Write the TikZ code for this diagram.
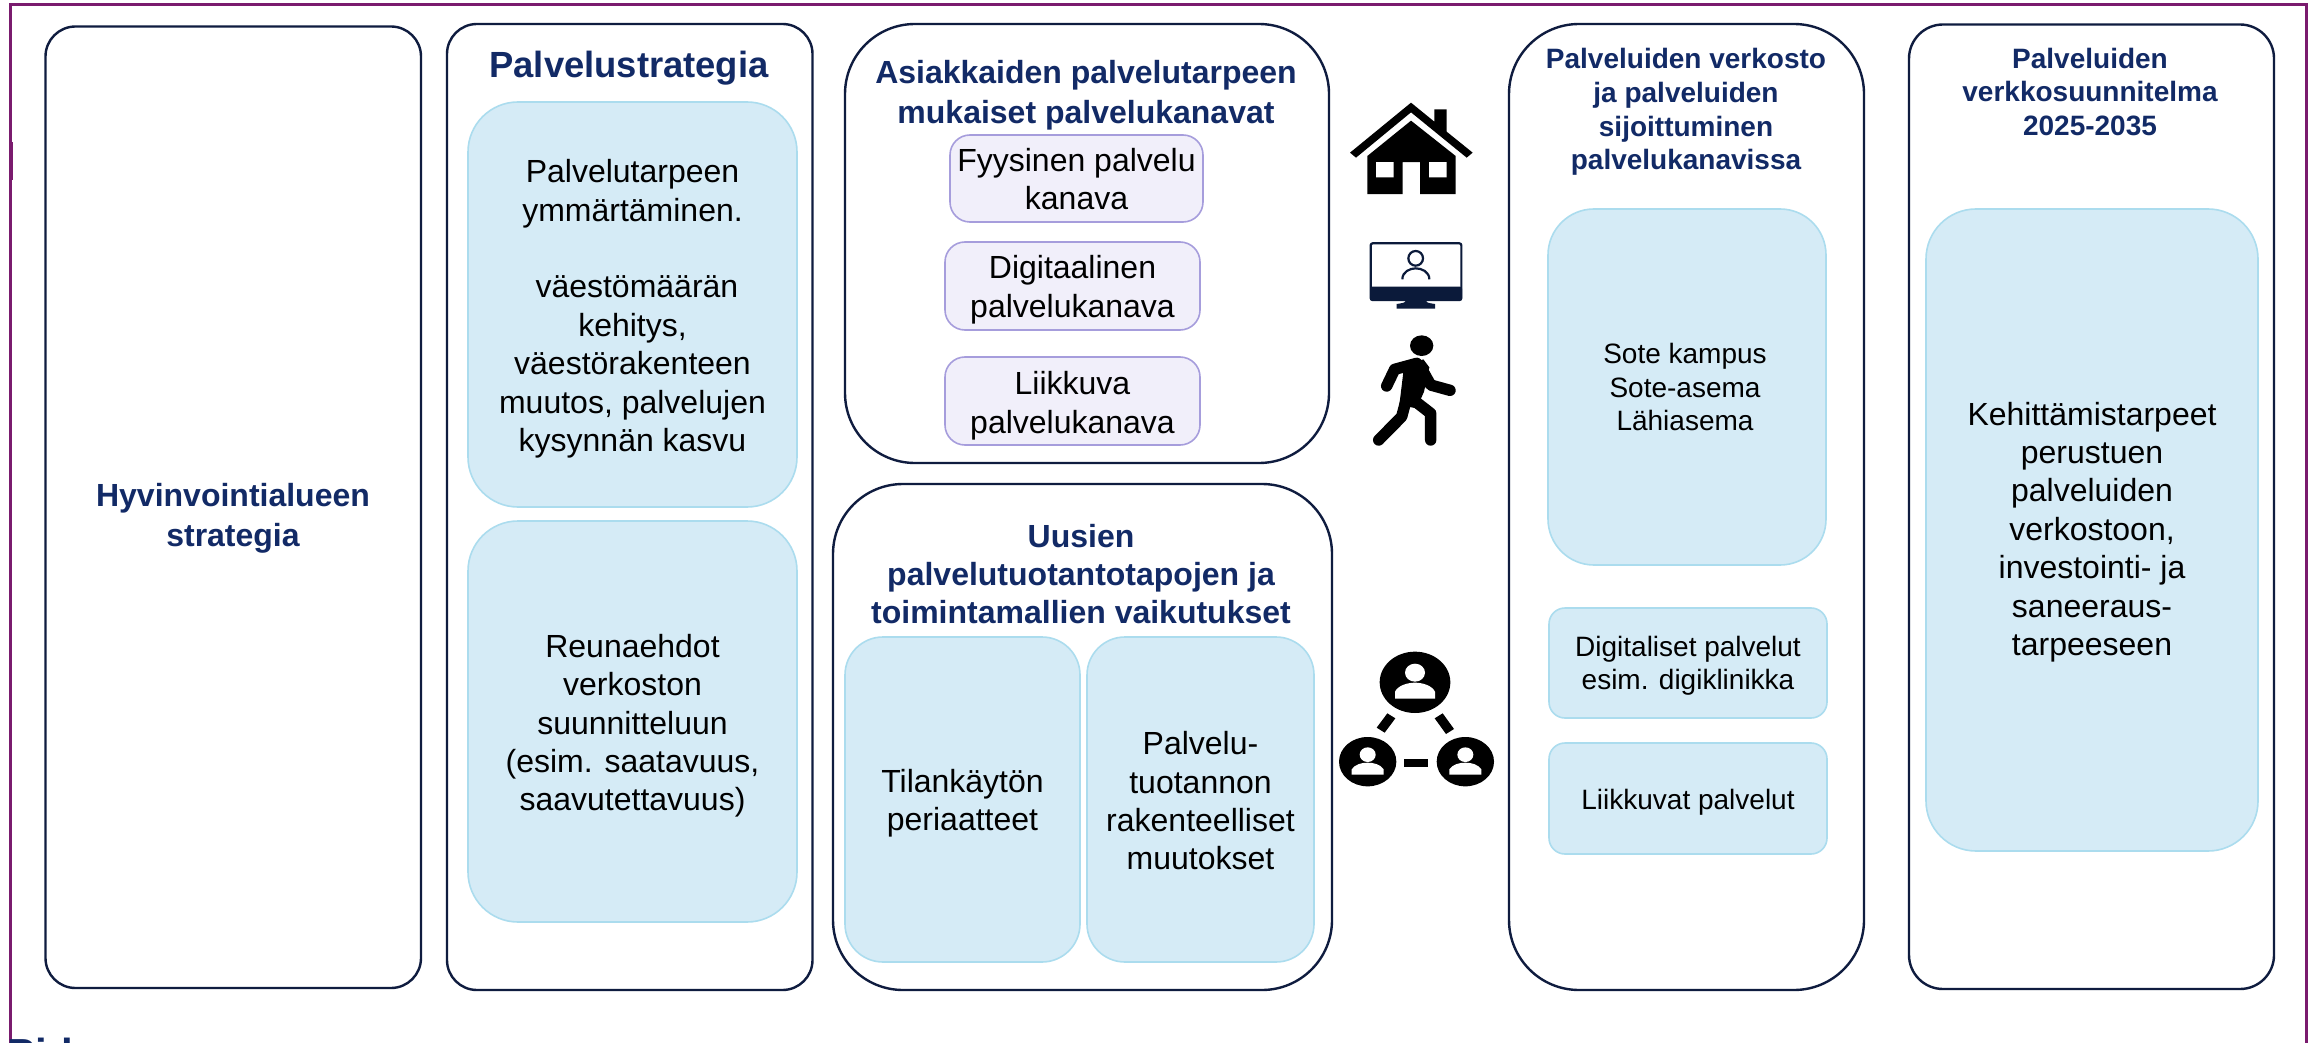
\documentclass[tikz,border=0pt]{standalone}
\usepackage{fontspec}
\setmainfont{Liberation Sans}
\definecolor{navyline}{HTML}{0F1C3F}
\definecolor{navytext}{HTML}{122A66}
\definecolor{framec}{HTML}{7A1B6E}
\definecolor{bluefill}{HTML}{D5EBF6}
\definecolor{blueline}{HTML}{ABDCEE}
\definecolor{purplefill}{HTML}{F1EFFA}
\definecolor{purpleline}{HTML}{A69DDC}
\definecolor{iconnavy}{HTML}{0B1A3A}
\newcommand\fs[2]{\fontsize{#1pt}{#2pt}\selectfont}
\tikzset{
  anybox/.style={rounded corners=#1,inner sep=0pt,outer sep=0pt,align=center},
  outerbox/.style={anybox=#1,draw=navyline,line width=1.2pt,fill=white},
  bluebox/.style={anybox=#1,draw=blueline,line width=.8pt,fill=bluefill},
  purplebox/.style={anybox=#1,draw=purpleline,line width=.8pt,fill=purplefill},
  titletext/.style={text=navytext,align=center,inner sep=0pt},
  bodytext/.style={align=center,inner sep=0pt},
  normalsize16/.style={font=\fs{16}{19.2}},
  small14/.style={font=\fs{14}{16.6}},
}
% empty box from its corners
\newcommand\obox[6]{%
  \pgfmathsetmacro\cxv{(#3+#5)/2}\pgfmathsetmacro\cyv{(#4+#6)/2}%
  \pgfmathsetmacro\wv{(#5-#3)*0.5}\pgfmathsetmacro\hv{(#6-#4)*0.5}%
  \node[#1,minimum width=\wv pt,minimum height=\hv pt] (#2) at (\cxv,\cyv) {};}
% box with its text, the text moved down by [#1] pt
\newcommand\rbox[8][0]{%
  \obox{#2}{#3}{#4}{#5}{#6}{#7}%
  \node[bodytext,#2,draw=none,fill=none,yshift=-#1pt] (#3text) at (#3.center) {#8};}
\begin{document}
\begin{tikzpicture}[x=0.5pt,y=-0.5pt]
\useasboundingbox (0,0) rectangle (2313,1043);
\fill[white] (0,0) rectangle (2313,1043);
\begin{scope}
\clip (0,0) rectangle (2313,1043);
\draw[framec,line width=1.5pt] (10,1050) -- (10,4.5) -- (2306,4.5) -- (2306,1050);
\fill[framec] (9,142) rectangle (12.5,180);
\node[titletext,anchor=base west,font=\bfseries\fs{21}{25}] (cuttext) at (7,1068) {Pid};
\end{scope}
% outer boxes
\obox{outerbox=15pt}{strategia}{45.5}{26.5}{421}{988}
\obox{outerbox=15pt}{palvstrat}{447}{24}{812.5}{990}
\obox{outerbox=35pt}{kanavat}{845}{24}{1329}{463}
\obox{outerbox=35pt}{uudet}{833}{484}{1332}{990}
\obox{outerbox=35pt}{verkosto}{1509}{24}{1864}{990}
\obox{outerbox=17pt}{suunn}{1909}{24.5}{2274}{989}
% titles
\node[titletext,font=\bfseries\fs{16}{20}] (t0) at (233,518) {Hyvinvointialueen\\strategia};
\node[titletext,font=\bfseries\fs{18.2}{22}] (t1) at (629,68) {Palvelustrategia};
\node[titletext,font=\bfseries\fs{16}{20}] (t2) at (1086,95) {Asiakkaiden palvelutarpeen\\mukaiset palvelukanavat};
\node[titletext,font=\bfseries\fs{16}{19}] (t3) at (1081,574) {Uusien\\palvelutuotantotapojen ja\\toimintamallien vaikutukset};
\node[titletext,font=\bfseries\fs{14}{16.8}] (t4) at (1686,112) {Palveluiden verkosto\\ja palveluiden\\sijoittuminen\\palvelukanavissa};
\node[titletext,font=\bfseries\fs{14}{16.8}] (t5) at (2090,92) {Palveluiden\\verkkosuunnitelma\\2025-2035};
% blue boxes
\rbox[2.2]{bluebox=25pt,normalsize16}{b1}{468}{102}{797}{507}{Palvelutarpeen\\ymmärtäminen.\\[19.2pt]\hspace*{4.4pt}väestömäärän\\kehitys,\\väestörakenteen\\muutos, palvelujen\\kysynnän kasvu}
\rbox[2.2]{bluebox=25pt,normalsize16}{b2}{468}{521}{797}{922}{Reunaehdot\\verkoston\\suunnitteluun\\(esim. saatavuus,\\saavutettavuus)}
\rbox[1.8]{bluebox=19pt,normalsize16}{b3}{845}{637}{1080}{962}{Tilankäytön\\periaatteet}
\rbox[0.7]{bluebox=19pt,normalsize16}{b4}{1087}{637}{1314}{962}{Palvelu-\\tuotannon\\rakenteelliset\\muutokset}
\obox{bluebox=23pt}{b5}{1548}{209}{1826}{565}
\node[bodytext,small14] (b5text) at (1685,387) {Sote kampus\\Sote-asema\\Lähiasema};
\rbox[1.4]{bluebox=8pt,font=\fs{14}{16.6}}{b6}{1549}{608}{1827}{718}{Digitaliset palvelut\\esim. digiklinikka}
\rbox[1.8]{bluebox=8pt,font=\fs{14}{16.6}}{b7}{1549}{743}{1827}{854}{Liikkuvat palvelut}
\rbox[1.0]{bluebox=25pt,normalsize16}{b8}{1926}{209}{2258}{851}{Kehittämistarpeet\\perustuen\\palveluiden\\verkostoon,\\investointi- ja\\saneeraus-\\tarpeeseen}
% purple boxes
\rbox[0.3]{purplebox=10pt,normalsize16}{p1}{950}{135}{1203}{222}{Fyysinen palvelu\\kanava}
\rbox[1.8]{purplebox=10pt,normalsize16}{p2}{945}{242}{1200}{330}{Digitaalinen\\palvelukanava}
\rbox[2.4]{purplebox=10pt,normalsize16}{p3}{945}{357}{1200}{445}{Liikkuva\\palvelukanava}
% icons
\begin{scope}[shift={(1300,80)},x=0.16667pt,y=-0.16667pt]
 % house
 \fill[black] (333,68) -- (403,125) -- (403,88) -- (440,88) -- (440,155) -- (518,218) -- (500,233) -- (333,97) -- (168,233) -- (150,218) -- cycle;
 \fill[black] (333,122) -- (467,228) -- (467,342) -- (360,342) -- (360,246) -- (308,246) -- (308,342) -- (202,342) -- (202,228) -- cycle;
 \fill[white] (228,246) rectangle (281,292) (387,246) rectangle (440,292);
 % monitor
 \draw[iconnavy,line width=1.1pt,rounded corners=1pt] (212,490) rectangle (484,660);
 \fill[iconnavy,rounded corners=1pt] (210,620) rectangle (486,662);
 \fill[iconnavy] (320,660) -- (375,660) .. controls (380,668) .. (405,672) -- (405,686) -- (290,686) -- (290,672) .. controls (315,668) .. (320,660) -- cycle;
 \draw[iconnavy,line width=1.1pt] (347,535) circle [x radius=22,y radius=22];
 \draw[iconnavy,line width=1.1pt] (307,598) .. controls (307,575) and (330,565) .. (347,565) .. controls (365,565) and (388,575) .. (388,598);
 % walker
 \fill[black] (365,797) ellipse [x radius=35,y radius=31];
 \begin{scope}[line cap=round,line join=round,draw=black,line width=5.7pt]
  \draw (260,918) -- (284,868) -- (350,850);
  \draw (360,858) -- (392,915) -- (450,931);
  \draw (345,860) -- (305,1010) -- (236,1080);
  \draw (338,958) -- (392,1000) -- (392,1080);
 \end{scope}
 \fill[black] (312,860) -- (370,838) -- (388,862) -- (372,935) -- (350,985) -- (298,975) -- cycle;
\end{scope}
\begin{scope}[shift={(1320,620)},x=0.16667pt,y=-0.16667pt]
 \fill[black] (285,187) ellipse [x radius=106,y radius=92];
 \fill[black] (143,425) ellipse [x radius=86,y radius=74];
 \fill[black] (436,425) ellipse [x radius=86,y radius=74];
 \fill[white] (285,158) circle [x radius=30,y radius=27];
 \fill[white] (225,236) -- (225,215) .. controls (235,195) and (265,188) .. (285,188) .. controls (305,188) and (335,195) .. (345,215) -- (345,236) -- cycle;
 \fill[white] (143,404) circle [x radius=24,y radius=22];
 \fill[white] (95,464) -- (95,448) .. controls (105,433) and (125,428) .. (143,428) .. controls (161,428) and (181,433) .. (191,448) -- (191,464) -- cycle;
 \fill[white] (436,404) circle [x radius=24,y radius=22];
 \fill[white] (388,464) -- (388,448) .. controls (398,433) and (418,428) .. (436,428) .. controls (454,428) and (474,433) .. (484,448) -- (484,464) -- cycle;
 \fill[black] (253,416) rectangle (323,440);
 \fill[black] (202,280) -- (226,295) -- (194,338) -- (170,323) -- cycle;
 \fill[black] (368,280) -- (344,295) -- (378,342) -- (402,327) -- cycle;
\end{scope}
\end{tikzpicture}
\end{document}
